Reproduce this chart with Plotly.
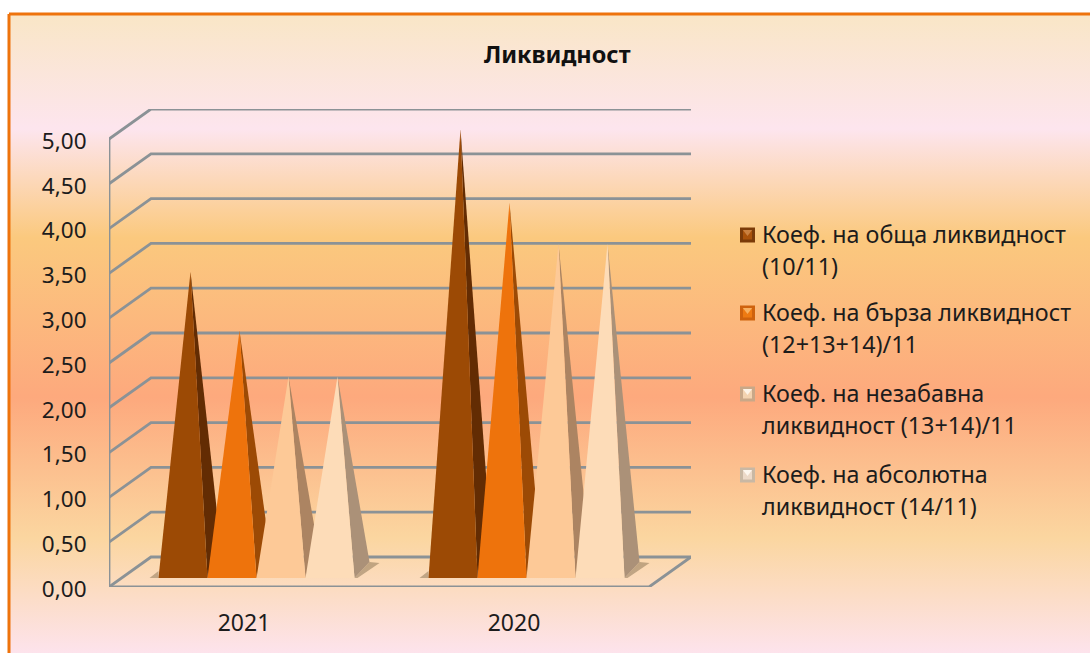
"""
Ликвидност - 3D пирамиди, начертани като запълнени полигони върху обикновени оси.
"""
import plotly.graph_objects as go

# Данни
categories = ["2021", "2020"]
series_names = [
    "Коеф. на обща ликвидност (10/11)",
    "Коеф. на бърза ликвидност (12+13+14)/11",
    "Коеф. на незабавна ликвидност (13+14)/11",
    "Коеф. на абсолютна ликвидност (14/11)",
]
obshta = [3.33, 4.92]
barza = [2.67, 4.10]
nezabavna = [2.16, 3.64]
absolyutna = [2.16, 3.64]
y_ticks = [0, 0.5, 1, 1.5, 2, 2.5, 3, 3.5, 4, 4.5, 5]
legend_lines = [
    ["Коеф. на обща ликвидност", "(10/11)"],
    ["Коеф. на бърза ликвидност", "(12+13+14)/11"],
    ["Коеф. на незабавна", "ликвидност (13+14)/11"],
    ["Коеф. на абсолютна", "ликвидност (14/11)"],
]

WIDTH, HEIGHT = 1090, 653
FONT = "Noto Sans"
TEXT = "#1c1c1c"
GRID = "#8b9296"
FRONT = ["#9c4a05", "#ee730c", "#fdc997", "#fddcb8"]
SIDE = ["#632c03", "#9c4a05", "#ac8462", "#ab9178"]
SWATCH_EDGE = ["#7b3b08", "#cf620d", "#c9a888", "#c9b8a4"]
SWATCH_MID = ["#a9520a", "#ee7a12", "#f3d3b0", "#ecd9c8"]
SWATCH_TOP = ["#c9803f", "#f8b060", "#fdf3e6", "#fdf6ee"]

# Геометрия на графиката (пиксели на страницата)
PLOT_L, PLOT_R, PLOT_T, PLOT_B = 109, 691, 109, 587
PX_PER_CAT = 270
PX_PER_UNIT = 89.6
WALL_DX = 42 / PX_PER_CAT
WALL_DY = 30 / PX_PER_UNIT
BAR_W = 49 / PX_PER_CAT
BAR_DX = 15 / PX_PER_CAT
BAR_DY = 16 / PX_PER_UNIT
BASE_DX = 12.5 / PX_PER_CAT
BASE_DY = 9 / PX_PER_UNIT


def px_x(x):
    return x / WIDTH


def px_y(y):
    return 1 - y / HEIGHT


fig = go.Figure()

# Фон с преливане, на цялата страница
fig.add_trace(go.Scatter(
    x=[9, 1100, 1100, 9, 9], y=[14, 14, 665, 665, 14],
    mode="lines", fill="toself",
    line=dict(color="#ee730c", width=3),
    fillgradient=dict(
        type="vertical", start=14, stop=653,
        colorscale=[
            [0, "#f9e6c6"], [0.18, "#fde5ee"], [0.35, "#fbc97e"],
            [0.6, "#fda97d"], [0.82, "#fbd6a0"], [1, "#fde3ec"],
        ],
    ),
    hoverinfo="skip", showlegend=False,
))

# Стени и под
wall_x, wall_y = [], []
x_left, x_right = -0.5, len(categories) - 0.5
for v in y_ticks:
    wall_x += [x_left, x_left + WALL_DX, x_right + WALL_DX, None]
    wall_y += [v, v + WALL_DY, v + WALL_DY, None]
wall_x += [x_left, x_left, None, x_left, x_right, x_right + WALL_DX]
wall_y += [0, y_ticks[-1], None, 0, 0, WALL_DY]
fig.add_trace(go.Scatter(
    x=wall_x, y=wall_y, mode="lines", line=dict(color=GRID, width=2.8),
    xaxis="x2", yaxis="y2", cliponaxis=False, hoverinfo="skip", showlegend=False,
))

# Сянка на пода и пирамиди
all_series = [obshta, barza, nezabavna, absolyutna]
for c in range(len(categories)):
    left = c + BASE_DX - 2 * BAR_W
    right = c + BASE_DX + 2 * BAR_W
    fig.add_trace(go.Scatter(
        x=[left - 9 / PX_PER_CAT, left, left, None,
           right, right + BAR_DX, right + BAR_DX + 10 / PX_PER_CAT, right + 3 / PX_PER_CAT],
        y=[BASE_DY, BASE_DY + 7 / PX_PER_UNIT, BASE_DY, None,
           BASE_DY, BASE_DY + BAR_DY, BASE_DY + 15 / PX_PER_UNIT, BASE_DY],
        mode="lines", fill="toself", line=dict(width=0), fillcolor="rgba(105,85,55,0.4)",
        xaxis="x2", yaxis="y2", cliponaxis=False, hoverinfo="skip", showlegend=False,
    ))
    for s, values in enumerate(all_series):
        x0 = left + s * BAR_W
        x1 = x0 + BAR_W
        apex_x = (x0 + x1) / 2 + BAR_DX / 2
        apex_y = values[c] + BASE_DY + BAR_DY / 2
        fig.add_trace(go.Scatter(
            x=[x1, x1 + BAR_DX, apex_x, x1], y=[BASE_DY, BASE_DY + BAR_DY, apex_y, BASE_DY],
            mode="lines", fill="toself", line=dict(width=0), fillcolor=SIDE[s],
            xaxis="x2", yaxis="y2", cliponaxis=False, hoverinfo="skip", showlegend=False,
        ))
        fig.add_trace(go.Scatter(
            x=[x0, x1, apex_x, x0], y=[BASE_DY, BASE_DY, apex_y, BASE_DY],
            mode="lines", fill="toself", line=dict(width=0), fillcolor=FRONT[s],
            name=series_names[s], xaxis="x2", yaxis="y2", cliponaxis=False,
            text=[f"{categories[c]}: {values[c]:.2f}"] * 4, hoverinfo="text", showlegend=False,
        ))

# Легенда: квадратче и два реда текст
annotations = [dict(
    text="<b>Ликвидност</b>", x=px_x(557), y=px_y(54), xref="paper", yref="paper",
    xanchor="center", yanchor="middle",
    showarrow=False, font=dict(family=FONT, size=23.5, color="#111111"),
)]
legend_y = [235, 313, 394, 475]
for i, lines in enumerate(legend_lines):
    for symbol, size, color, shift in [
        ("square", 15, SWATCH_EDGE[i], 0),
        ("square", 9, SWATCH_MID[i], 0),
        ("triangle-down", 8, SWATCH_TOP[i], -3),
    ]:
        fig.add_trace(go.Scatter(
            x=[747.5], y=[legend_y[i] + shift], mode="markers",
            marker=dict(symbol=symbol, size=size, color=color, line=dict(width=0)),
            hoverinfo="skip", showlegend=False,
        ))
    for j, line in enumerate(lines):
        annotations.append(dict(
            text=line, x=px_x(760), y=px_y(legend_y[i] + j * 32 - 1), xref="paper", yref="paper",
            xanchor="left", yanchor="middle",
            showarrow=False, font=dict(family=FONT, size=23.3, color=TEXT),
        ))

fig.update_layout(
    width=WIDTH, height=HEIGHT, autosize=False,
    margin=dict(l=0, r=0, t=0, b=0),
    paper_bgcolor="white", plot_bgcolor="rgba(0,0,0,0)",
    separators=", ",
    showlegend=False,
    annotations=annotations,
    # фонови оси в пиксели на страницата
    xaxis=dict(domain=[0, 1], range=[0, WIDTH], visible=False, fixedrange=True, automargin=False),
    yaxis=dict(domain=[0, 1], range=[HEIGHT, 0], visible=False, fixedrange=True, automargin=False),
    # оси на графиката
    xaxis2=dict(
        domain=[px_x(PLOT_L), px_x(PLOT_R)], anchor="y2",
        range=[x_left, x_right + WALL_DX],
        tickvals=list(range(len(categories))), ticktext=categories,
        showgrid=False, zeroline=False, showline=False,
        ticks="outside", ticklen=15, tickcolor="rgba(0,0,0,0)",
        tickfont=dict(family=FONT, size=23, color=TEXT), fixedrange=True, automargin=False,
    ),
    yaxis2=dict(
        domain=[px_y(PLOT_B), px_y(PLOT_T)], anchor="x2",
        range=[0, y_ticks[-1] + WALL_DY],
        tickvals=y_ticks, tickformat=".2f",
        showgrid=False, zeroline=False, showline=False,
        ticks="outside", ticklen=17, tickcolor="rgba(0,0,0,0)", ticklabelshift=2,
        tickfont=dict(family=FONT, size=22.5, color=TEXT), fixedrange=True, automargin=False,
    ),
)

fig.write_html("out.html", config={"displayModeBar": False},
               post_script="document.body.style.margin='0';")
